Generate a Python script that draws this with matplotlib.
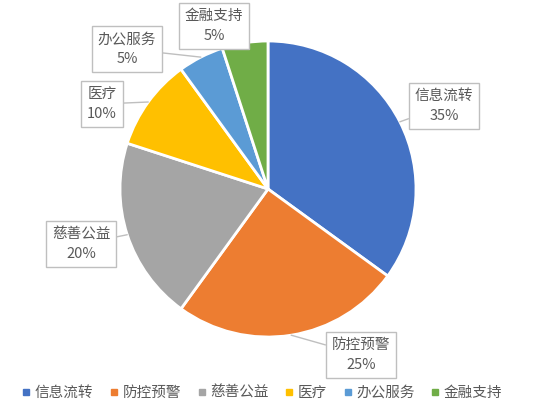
import numpy as np
import matplotlib.pyplot as plt
from matplotlib.lines import Line2D

plt.rcParams['font.family'] = ['Noto Sans CJK SC', 'DejaVu Sans']

labels = ['信息流转', '防控预警', '慈善公益', '医疗', '办公服务', '金融支持']
values = [35, 25, 20, 10, 5, 5]
colors = ['#4472C4', '#ED7D31', '#A5A5A5', '#FFC000', '#5B9BD5', '#70AD47']

# label box centres, pixel coords (y down)
box_pos = [(444, 106), (361, 355), (81, 244), (102, 104), (127, 49), (214, 26)]

W, H = 547, 409
fig = plt.figure(figsize=(W / 100, H / 100), dpi=100)
ax = fig.add_axes([0, 0, 1, 1])

cx, cy, r = 268, H - 189, 148
wedges, _ = ax.pie(values, colors=colors, startangle=90, counterclock=False,
                   center=(cx, cy), radius=r, frame=True,
                   wedgeprops=dict(edgecolor='white', linewidth=2))
ax.set_xlim(0, W)
ax.set_ylim(0, H)
ax.axis('off')

total = sum(values)
for w, lab, v, (bx, by) in zip(wedges, labels, values, box_pos):
    ang = np.deg2rad((w.theta1 + w.theta2) / 2)
    px = cx + r * np.cos(ang)
    py = cy + r * np.sin(ang)
    ax.annotate(f'{lab}\n{v / total:.0%}', xy=(px, py), xytext=(bx, H - by),
                ha='center', va='center', fontsize=10.5, color='#595959',
                linespacing=1.5,
                bbox=dict(boxstyle='square,pad=0.4', fc='white', ec='#BFBFBF', lw=1),
                arrowprops=dict(arrowstyle='-', color='#BFBFBF', lw=1,
                                shrinkA=0, shrinkB=0))

handles = [Line2D([], [], marker='s', linestyle='', markersize=4.5,
                  markerfacecolor=c, markeredgecolor=c) for c in colors]
fig.legend(handles, labels, loc='center', bbox_to_anchor=(0.48, 1 - 393 / H),
           ncol=6, frameon=False, fontsize=10.5, labelcolor='#595959',
           handlelength=0.5, handletextpad=0.35, columnspacing=1.15)

fig.savefig('out.png', dpi=100)
